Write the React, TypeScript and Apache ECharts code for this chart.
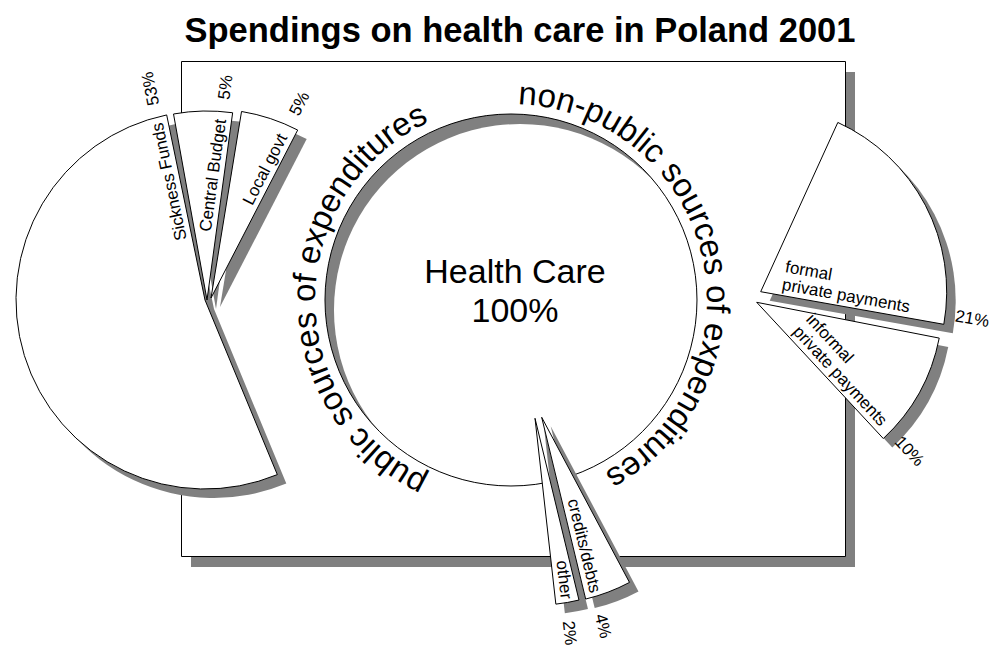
import React, { useEffect, useRef } from 'react';
import * as echarts from 'echarts';

// ---------------- data ----------------
const TITLE = 'Spendings on health care in Poland 2001';
const totalName = 'Health Care';
const totalValue = 100;
const groupTitles = ['public sources of expenditures', 'non-public sources of expenditures'];

const publicNames = ['Sickness Funds', 'Central Budget', 'Local govt'];
const publicValues = [53, 5, 5];
const privateNames = ['formal\nprivate payments', 'informal\nprivate payments'];
const privateValues = [21, 10];
const otherNames = ['credits/debts', 'other'];
const otherValues = [4, 2];

// ---------------- layout / style ----------------
const FONT = '"Liberation Sans", Arial, Helvetica, sans-serif';
const GREY = '#808080';
const SHADOW = [9, 9];
const CENTER = [511, 300];
const CENTER_R = 186;

type Group = {
  names: string[];
  values: number[];
  r: number;
  start: number; // screen degrees, clockwise from +x
  gap: number;
  vertices: number[][];
  innerAlign: string;
  innerAlong: number[];
  pctAlong: number;
};

const groups: Group[] = [
  {
    names: publicNames, values: publicValues, r: 189, start: 67.5, gap: 1.5,
    vertices: [[205, 300], [207, 300], [211, 298]],
    innerAlign: 'right', innerAlong: [183, 181, 178], pctAlong: 201,
  },
  {
    names: privateNames, values: privateValues, r: 186, start: -65.5, gap: 1,
    vertices: [[760.7, 291.7], [756.7, 302.3]],
    innerAlign: 'left', innerAlong: [20, 46], pctAlong: 196,
  },
  {
    names: otherNames, values: otherValues, r: 187, start: 62, gap: 0,
    vertices: [[541.7, 417.3], [535, 418.3]],
    innerAlign: 'right', innerAlong: [183, 183], pctAlong: 205,
  },
];

const D2R = Math.PI / 180;

function pie(name: string, value: number, cx: number, cy: number, r: number,
  a0: number | null, a1: number | null, color: string, border: boolean, z: number) {
  const s: any = {
    type: 'pie', z, silent: true, animation: false,
    center: [cx, cy], radius: [0, r], clockwise: true,
    label: { show: false }, labelLine: { show: false },
    emphasis: { disabled: true }, avoidLabelOverlap: false,
    itemStyle: {
      color,
      borderColor: border ? '#000' : 'transparent',
      borderWidth: border ? 1 : 0,
    },
    data: [{ name, value }],
  };
  if (a0 !== null && a1 !== null) {
    s.startAngle = -a0;
    s.endAngle = -a1;
  }
  return s;
}

function arcText(text: string, cx: number, cy: number, rb: number, startDeg: number, fs: number) {
  const canvas = document.createElement('canvas');
  const ctx = canvas.getContext('2d')!;
  ctx.font = `${fs}px ${FONT}`;
  const els: any[] = [];
  let s = 0;
  for (const ch of text) {
    const w = ctx.measureText(ch).width;
    if (ch !== ' ') {
      const ang = startDeg * D2R + (s + w / 2) / rb;
      const rr = rb + 0.3465 * fs;
      els.push({
        type: 'text', z: 10, silent: true,
        x: cx + rr * Math.cos(ang), y: cy + rr * Math.sin(ang),
        rotation: -(ang + Math.PI / 2),
        style: { text: ch, fill: '#000', fontSize: fs, fontFamily: FONT, align: 'center', verticalAlign: 'middle' },
      });
    }
    s += w;
  }
  return els;
}

export default function App() {
  const ref = useRef<HTMLDivElement>(null);
  useEffect(() => {
    if (!ref.current) return;
    const chart = echarts.init(ref.current, undefined, { renderer: 'svg' });

    const series: any[] = [];
    // central circle ("hole" with inner shadow)
    series.push(pie(totalName, totalValue, CENTER[0], CENTER[1], CENTER_R, null, null, GREY, false, 2));
    series.push(pie(totalName, totalValue, CENTER[0] + 9, CENTER[1] + 10, CENTER_R, null, null, '#fff', false, 3));
    series.push(pie(totalName, totalValue, CENTER[0], CENTER[1], CENTER_R, null, null, 'transparent', true, 4));

    const texts: any[] = [];
    groups.forEach((g) => {
      let cum = 0;
      g.values.forEach((v, i) => {
        const a0 = g.start + cum * 3.6 + i * g.gap;
        const a1 = a0 + v * 3.6;
        cum += v;
        const [vx, vy] = g.vertices[i];
        series.push(pie(g.names[i], v, vx + SHADOW[0], vy + SHADOW[1], g.r, a0, a1, GREY, false, 5));
        series.push(pie(g.names[i], v, vx, vy, g.r, a0, a1, '#fff', true, 6));

        const phi = a1 * D2R;
        const ux = Math.cos(phi), uy = Math.sin(phi);
        const nx = Math.sin(phi), ny = -Math.cos(phi);
        const up = 2;
        const al = g.innerAlong[i];
        texts.push({
          type: 'text', z: 10, silent: true,
          x: vx + al * ux + up * nx, y: vy + al * uy + up * ny,
          rotation: -phi,
          style: {
            text: g.names[i], fill: '#000', fontSize: 17, fontFamily: FONT, lineHeight: 18,
            align: g.innerAlign, verticalAlign: 'bottom',
          },
        });
        const pa = g.pctAlong;
        texts.push({
          type: 'text', z: 10, silent: true,
          x: vx + pa * ux + up * nx, y: vy + pa * uy + up * ny,
          rotation: -phi,
          style: {
            text: `${v}%`, fill: '#000', fontSize: 17, fontFamily: FONT,
            align: 'left', verticalAlign: 'bottom',
          },
        });
      });
    });

    const graphics: any[] = [
      { type: 'rect', z: 0, silent: true, shape: { x: 191, y: 72, width: 664, height: 495 }, style: { fill: GREY } },
      { type: 'rect', z: 1, silent: true, shape: { x: 181.5, y: 61.5, width: 664, height: 495 }, style: { fill: '#fff', stroke: '#000', lineWidth: 1 } },
      {
        type: 'text', z: 10, silent: true, x: 515, y: 290,
        style: {
          text: `${totalName}\n${totalValue}%`, fill: '#000', fontSize: 34, fontFamily: FONT,
          lineHeight: 39, align: 'center', verticalAlign: 'middle',
        },
      },
      ...arcText(groupTitles[0], CENTER[0], CENTER[1], 196, 115, 33),
      ...arcText(groupTitles[1], CENTER[0], CENTER[1], 196, -88, 33),
      ...texts,
    ];

    chart.setOption({
      animation: false,
      backgroundColor: '#fff',
      title: {
        text: TITLE, left: 515, top: 7, textAlign: 'center',
        textStyle: { fontSize: 34.5, fontWeight: 'bold', fontFamily: FONT, color: '#000' },
      },
      graphic: { elements: graphics },
      series,
    });
    return () => chart.dispose();
  }, []);
  return <div ref={ref} style={{ position: 'fixed', left: 0, top: 0, width: 995, height: 646 }} />;
}
